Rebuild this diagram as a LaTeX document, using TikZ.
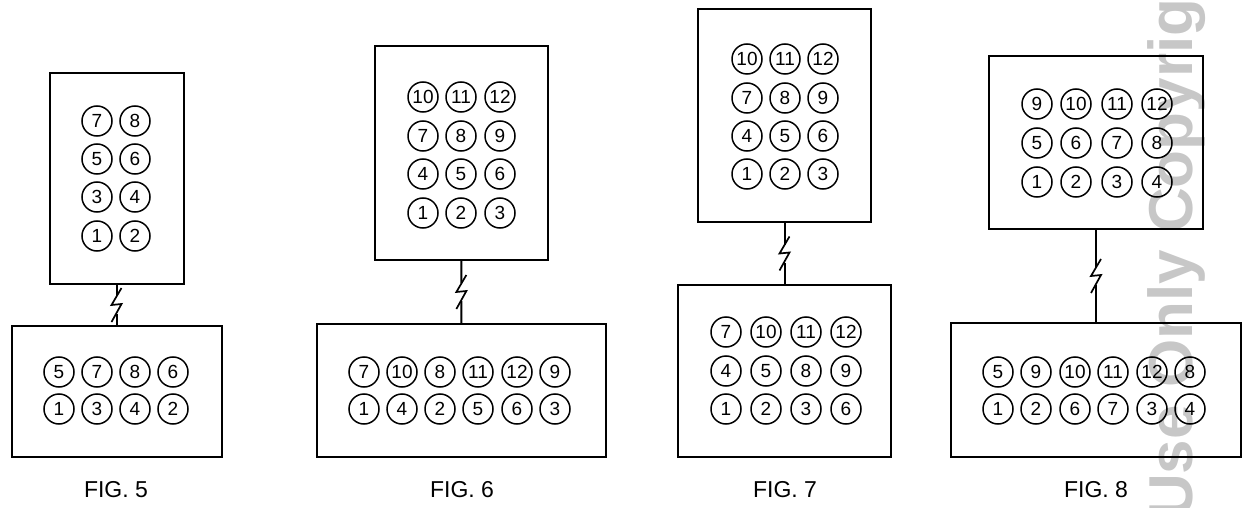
\documentclass[tikz,border=0pt]{standalone}
\usepackage{fontspec}
\setmainfont{Liberation Sans}
\tikzset{
  x=1pt,y=-1pt,
  unitbox/.style={draw=black,line width=2pt,fill=none,inner sep=0pt,outer sep=0pt,anchor=north west},
  pin/.style={circle,draw=black,line width=1.5pt,minimum size=30pt,inner sep=0pt,font=\fontsize{19}{19}\selectfont,text=black},
  link/.style={draw=black,line width=2pt},
  bolt/.style={draw=black,line width=1.7pt,line join=miter},
  figlabel/.style={font=\fontsize{23}{24}\selectfont,text=black},
  mark text/.style={font=\fontsize{62}{62}\selectfont\bfseries,text=black!22,rotate=90,anchor=base west,inner sep=0pt}
}
\newcommand{\myunit}[5]{\node[unitbox,minimum width=#4-#2,minimum height=#5-#3] (#1) at (#2,#3) {};}
\newcommand{\pinrow}[3]{\foreach \ppx/\ppl [count=\ppn] in {#3} {\node[pin] (#1-\ppn) at (\ppx,#2) {\ppl};}}
\newcommand{\linkbolt}[2]{%
  \path (#1.south) -- (#2.north) coordinate[midway] (#1-m);
  \draw[link] (#1.south) -- ([shift={(0,-9)}]#1-m) ([shift={(0,9)}]#1-m) -- (#2.north);
  \draw[bolt] ([shift={(5,-17)}]#1-m) -- ([shift={(-5,0)}]#1-m) -- ([shift={(5,-1)}]#1-m) -- ([shift={(-5,17)}]#1-m);
}
\begin{document}
\begin{tikzpicture}
\useasboundingbox (0,0) rectangle (1243,508);
\begin{scope}
\clip (0,0) rectangle (1243,508);
\node[mark text] (wm) at (1192,519) {Use Only Copyright};
\end{scope}
% FIG 5
\myunit{t5}{49.5}{73}{183.5}{284}
\myunit{b5}{11.5}{326}{221.5}{457}
\pinrow{a5}{121}{97/7,135/8}
\pinrow{c5}{159}{97/5,135/6}
\pinrow{d5}{197}{97/3,135/4}
\pinrow{e5}{236}{97/1,135/2}
\pinrow{f5}{372}{59/5,97/7,135/8,173/6}
\pinrow{g5}{409}{59/1,97/3,135/4,173/2}
\linkbolt{t5}{b5}
\node[figlabel] (l5) at (116,490) {FIG. 5};
% FIG 6
\myunit{t6}{375}{46}{548}{260}
\myunit{b6}{316.5}{324}{606}{457}
\pinrow{a6}{97}{423/10,461/11,500/12}
\pinrow{c6}{136}{423/7,461/8,500/9}
\pinrow{d6}{174}{423/4,461/5,500/6}
\pinrow{e6}{213}{423/1,461/2,500/3}
\pinrow{f6}{372}{364/7,402/10,440/8,478/11,517/12,555/9}
\pinrow{g6}{409}{364/1,402/4,440/2,478/5,517/6,555/3}
\linkbolt{t6}{b6}
\node[figlabel] (l6) at (462,490) {FIG. 6};
% FIG 7
\myunit{t7}{698}{9}{871}{222}
\myunit{b7}{678}{285}{891}{457}
\pinrow{a7}{59}{747/10,785/11,823/12}
\pinrow{c7}{98}{747/7,785/8,823/9}
\pinrow{d7}{136}{747/4,785/5,823/6}
\pinrow{e7}{174}{747/1,785/2,823/3}
\pinrow{f7}{332}{726/7,766/10,806/11,846/12}
\pinrow{g7}{371}{726/4,766/5,806/8,846/9}
\pinrow{h7}{409}{726/1,766/2,806/3,846/6}
\linkbolt{t7}{b7}
\node[figlabel] (l7) at (785,490) {FIG. 7};
% FIG 8
\myunit{t8}{989}{56}{1203}{229}
\myunit{b8}{951}{323}{1241}{457}
\pinrow{a8}{104}{1037/9,1076/10,1117/11,1157/12}
\pinrow{c8}{143}{1037/5,1076/6,1117/7,1157/8}
\pinrow{d8}{182}{1037/1,1076/2,1117/3,1157/4}
\pinrow{f8}{372}{998/5,1036/9,1075/10,1113/11,1152/12,1190/8}
\pinrow{g8}{409}{998/1,1036/2,1075/6,1113/7,1152/3,1190/4}
\linkbolt{t8}{b8}
\node[figlabel] (l8) at (1096,490) {FIG. 8};
\end{tikzpicture}
\end{document}
